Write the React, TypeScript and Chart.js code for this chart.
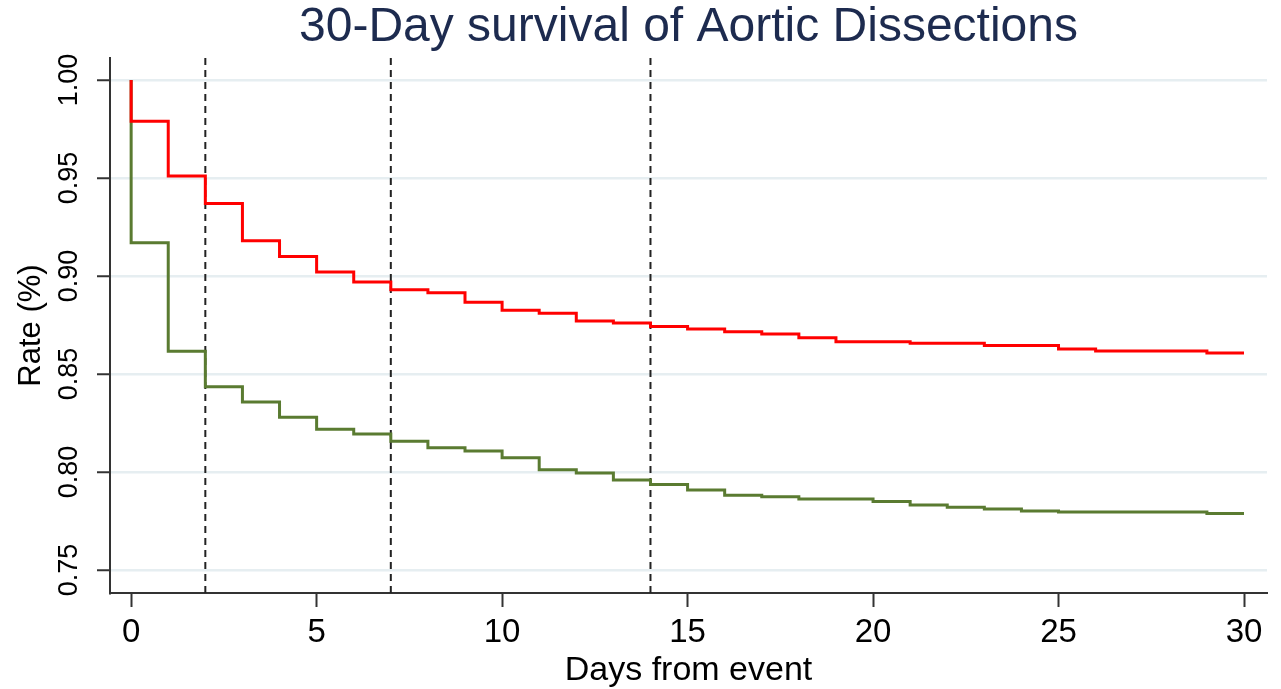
import React, { useEffect, useRef } from "react";
import { Chart, registerables } from "chart.js";

Chart.register(...registerables);

const chartTitle = "30-Day survival of Aortic Dissections";
const xTitle = "Days from event";
const yTitle = "Rate (%)";

// Day at which each interval of the step curve begins
const days = [0, 1, 2, 3, 4, 5, 6, 7, 8, 9, 10, 11, 12, 13, 14, 15, 16, 17, 18, 19, 20, 21, 22, 23, 24, 25, 26, 27, 28, 29];
const endDay = 30;
const startValue = 1.0;

// Survival estimate holding from each day to the next
const redSurvival = [
  0.979, 0.951, 0.937, 0.918, 0.910, 0.902, 0.897, 0.893, 0.8915, 0.8866,
  0.8825, 0.881, 0.877, 0.876, 0.8743, 0.873, 0.8716, 0.8704, 0.8685, 0.8665,
  0.8665, 0.8657, 0.8657, 0.8646, 0.8646, 0.8628, 0.8617, 0.8617, 0.8617, 0.8607,
];
const greenSurvival = [
  0.917, 0.8616, 0.8435, 0.8357, 0.8279, 0.8218, 0.8194, 0.8157, 0.8124, 0.8107,
  0.8073, 0.8012, 0.7995, 0.7959, 0.7937, 0.7908, 0.7881, 0.7874, 0.7862, 0.7862,
  0.785, 0.7832, 0.782, 0.7811, 0.7801, 0.7796, 0.7796, 0.7796, 0.7796, 0.7788,
];

const markerDays = [2, 7, 14];

const xTicks = [0, 5, 10, 15, 20, 25, 30];
const yTicks = [0.75, 0.8, 0.85, 0.9, 0.95, 1.0];

const xMin = -0.57;
const xMax = 30.62;
const yMin = 0.7383;
const yMax = 1.0112;

const FONT = "'Liberation Sans', Arial, Helvetica, sans-serif";

function stepPoints(values: number[]) {
  const pts = [{ x: days[0], y: startValue }];
  days.forEach((d, i) => pts.push({ x: d, y: values[i] }));
  pts.push({ x: endDay, y: values[values.length - 1] });
  return pts;
}

export default function App() {
  const canvasRef = useRef<HTMLCanvasElement | null>(null);

  useEffect(() => {
    document.body.style.margin = "0";
    const canvas = canvasRef.current;
    if (!canvas) return;

    const markerSets = markerDays.map((d) => ({
      label: "day " + d,
      data: [
        { x: d, y: yMin },
        { x: d, y: yMax },
      ],
      borderColor: "#222222",
      borderWidth: 2,
      borderDash: [7, 5],
      pointRadius: 0,
      fill: false,
    }));

    const chart = new Chart(canvas, {
      type: "line",
      data: {
        datasets: [
          {
            label: "Red",
            data: stepPoints(redSurvival),
            borderColor: "#ff0000",
            borderWidth: 3,
            stepped: "before",
            pointRadius: 0,
            fill: false,
          },
          {
            label: "Green",
            data: stepPoints(greenSurvival),
            borderColor: "#5a7b31",
            borderWidth: 3,
            stepped: "before",
            pointRadius: 0,
            fill: false,
          },
          ...markerSets,
        ],
      },
      options: {
        responsive: false,
        animation: false,
        layout: { padding: { left: 0, right: 14, top: 0, bottom: 0 } },
        plugins: {
          legend: { display: false },
          tooltip: { enabled: false },
          title: {
            display: true,
            text: chartTitle,
            fullSize: false,
            color: "#1d2b4f",
            font: { family: FONT, size: 48, weight: "normal", lineHeight: 1.0 },
            padding: { top: 4, bottom: 6 },
          },
        },
        scales: {
          x: {
            type: "linear",
            min: xMin,
            max: xMax,
            afterBuildTicks: (axis: any) => {
              axis.ticks = xTicks.map((v) => ({ value: v }));
            },
            afterFit: (scale: any) => {
              scale.height = 96;
            },
            grid: {
              drawOnChartArea: false,
              drawTicks: true,
              tickLength: 14,
              tickWidth: 2,
              tickColor: "#333333",
            },
            border: { display: true, color: "#333333", width: 2 },
            ticks: {
              color: "#000000",
              font: { family: FONT, size: 33 },
              padding: 6,
              maxRotation: 0,
              autoSkip: false,
              callback: (v: any) => String(v),
            },
            title: {
              display: true,
              text: xTitle,
              color: "#000000",
              font: { family: FONT, size: 34, lineHeight: 1.0 },
              padding: { top: 0, bottom: 1 },
            },
          },
          y: {
            type: "linear",
            min: yMin,
            max: yMax,
            afterBuildTicks: (axis: any) => {
              axis.ticks = yTicks.map((v) => ({ value: v }));
            },
            afterFit: (scale: any) => {
              scale.width = 110;
            },
            grid: {
              drawOnChartArea: true,
              color: "#e6eef1",
              lineWidth: 2.5,
              drawTicks: true,
              tickLength: 13,
              tickWidth: 2,
              tickColor: "#333333",
            },
            border: { display: true, color: "#333333", width: 2 },
            ticks: {
              color: "#000000",
              font: { family: FONT, size: 27 },
              minRotation: 90,
              maxRotation: 90,
              crossAlign: "center",
              padding: 1,
              autoSkip: false,
              callback: (v: any) => Number(v).toFixed(2),
            },
            title: {
              display: true,
              text: yTitle,
              color: "#000000",
              font: { family: FONT, size: 31, lineHeight: 1.2 },
              padding: { top: 13, bottom: 0 },
            },
          },
        },
      },
    });

    return () => chart.destroy();
  }, []);

  return (
    <div style={{ position: "fixed", left: 0, top: 0, width: 1281, height: 689, background: "#ffffff" }}>
      <canvas ref={canvasRef} width={1281} height={689} />
    </div>
  );
}
